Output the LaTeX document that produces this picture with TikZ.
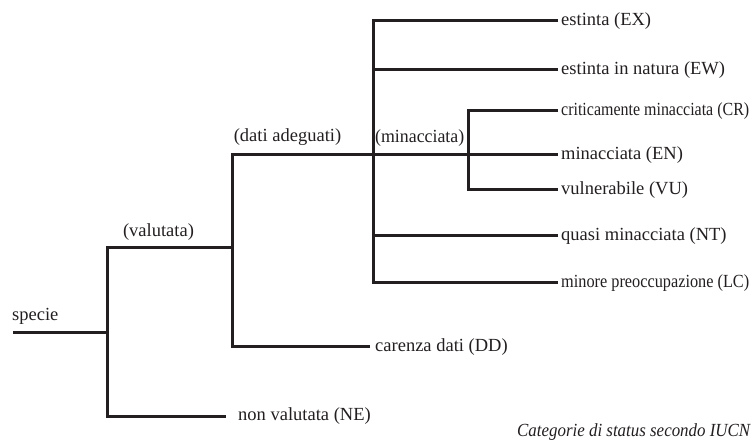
\documentclass[tikz,border=0pt]{standalone}
\usepackage{fontspec}
\setmainfont{Liberation Serif}
\usepackage{graphicx}
\begin{document}
\begin{tikzpicture}[x=1pt,y=-1pt,
  branch/.style={draw=linecol,line width=3pt,line join=miter},
  leaf/.style={anchor=west,inner sep=0pt,font=\fontsize{18.5}{20}\selectfont,text=linecol},
  tag/.style={inner sep=0pt,font=\fontsize{18.5}{20}\selectfont,text=linecol}]
\definecolor{linecol}{HTML}{231F20}
\useasboundingbox (0,0) rectangle (752,443);
% leaves
\node[leaf] (ex) at (561,21) {estinta (EX)};
\node[leaf] (ew) at (561,70) {estinta in natura (EW)};
\node[leaf] (cr) at (561,111) {\resizebox{188pt}{\height}{criticamente minacciata (CR)}};
\node[leaf] (en) at (561,155) {minacciata (EN)};
\node[leaf] (vu) at (561,190) {vulnerabile (VU)};
\node[leaf] (nt) at (561,236) {quasi minacciata (NT)};
\node[leaf] (lc) at (561,283) {\resizebox{188pt}{\height}{minore preoccupazione (LC)}};
\node[leaf] (dd) at (375,347) {carenza dati (DD)};
\node[leaf] (ne) at (238,416) {non valutata (NE)};
\node[leaf] (specie) at (12,316) {specie};
% internal labels
\node[tag,anchor=south] (valutata) at (158.5,241) {(valutata)};
\node[tag,anchor=south] (adeguati) at (287.5,146) {(dati adeguati)};
\node[tag,anchor=south west] (minacciata) at (375,147) {\resizebox{89pt}{\height}{(minacciata)}};
% branch points
\coordinate (root) at (13,333);
\coordinate (b1) at (107,333);
\coordinate (b1t) at (107,248);
\coordinate (b1b) at (107,416);
\coordinate (b2) at (232,248);
\coordinate (b2t) at (232,155);
\coordinate (b2b) at (232,347);
\coordinate (b3t) at (373,21);
\coordinate (b3b) at (373,283);
\coordinate (b4t) at (468,111);
\coordinate (b4b) at (468,190);
% connectors
\draw[branch] (root) -- (b1);
\draw[branch] ([xshift=-12pt]ne.west) -- (b1b) -- (b1t) -- (b2);
\draw[branch] ([xshift=-5pt]dd.west) -- (b2b) -- (b2t) -- ([xshift=-3pt]en.west);
\draw[branch] ([xshift=-3pt]ex.west) -- (b3t) -- (b3b) -- ([xshift=-3pt]lc.west);
\draw[branch] ([xshift=-3pt]ew.west) -- (ew.west -| b3t);
\draw[branch] ([xshift=-3pt]nt.west) -- (nt.west -| b3t);
\draw[branch] ([xshift=-3pt]cr.west) -- (b4t) -- (b4b) -- ([xshift=-3pt]vu.west);
% caption
\node[leaf,anchor=west,font=\fontsize{18.5}{20}\selectfont\itshape] (caption) at (517,432) {\resizebox{233pt}{\height}{Categorie di status secondo IUCN}};
\end{tikzpicture}
\end{document}
